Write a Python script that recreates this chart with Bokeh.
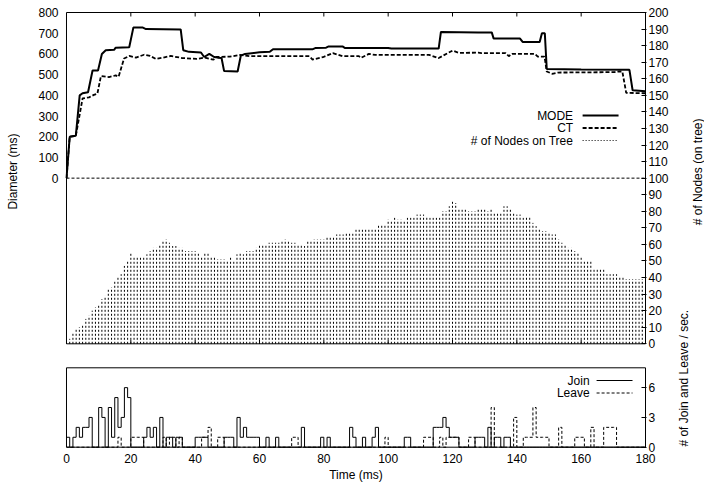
import math
from bokeh.plotting import figure
from bokeh.layouts import row
from bokeh.models import Range1d, LinearAxis, FixedTicker, Label
from bokeh.embed import file_html
from bokeh.resources import INLINE

# ---------------- data ----------------
time_s = list(range(180))

nodes_on_tree = [
    3, 3, 7, 9, 10, 12, 15, 17, 20, 22, 24, 27, 29, 33, 34, 38, 40, 42, 47, 50,
    55, 53, 53, 53, 53, 54, 56, 58, 58, 60, 62, 63, 61, 59, 59, 58, 58, 56, 56, 56,
    56, 55, 53, 55, 55, 53, 52, 51, 51, 51, 50, 53, 50, 54, 55, 54, 56, 56, 56, 58,
    60, 60, 60, 61, 61, 61, 61, 62, 63, 62, 61, 61, 60, 60, 59, 62, 62, 63, 63, 63,
    63, 64, 64, 64, 66, 66, 66, 67, 67, 67, 69, 69, 69, 69, 69, 69, 69, 72, 72, 72,
    75, 74, 76, 75, 75, 74, 76, 76, 76, 78, 78, 78, 77, 76, 76, 76, 76, 80, 80, 83,
    86, 85, 82, 81, 81, 80, 80, 80, 82, 82, 82, 80, 81, 79, 79, 79, 83, 83, 82, 79,
    78, 78, 76, 77, 77, 73, 71, 70, 68, 68, 67, 66, 66, 63, 61, 60, 58, 58, 56, 55,
    53, 50, 50, 50, 45, 45, 45, 45, 42, 42, 42, 42, 41, 40, 39, 39, 39, 39, 39, 39,
]

join_per_sec = [
    1, 0, 1, 2, 1, 2, 2, 3, 0, 0, 4, 3, 0, 4, 1, 5, 2, 3, 6, 5,
    0, 0, 0, 0, 1, 2, 1, 2, 0, 3, 0, 1, 1, 0, 1, 1, 0, 0, 0, 0,
    1, 1, 1, 1, 0, 0, 0, 0, 0, 1, 1, 1, 0, 3, 1, 2, 1, 1, 1, 1,
    0, 0, 1, 0, 0, 1, 0, 0, 0, 0, 0, 0, 0, 2, 0, 0, 0, 0, 0, 1,
    0, 1, 0, 0, 0, 0, 0, 0, 2, 1, 0, 0, 1, 0, 0, 1, 2, 0, 0, 0,
    0, 0, 0, 0, 0, 1, 1, 0, 0, 0, 0, 0, 0, 0, 2, 2, 2, 3, 2, 1,
    1, 1, 0, 0, 0, 0, 0, 1, 1, 1, 0, 2, 0, 1, 1, 0, 1, 1, 0, 0,
    0, 0, 0, 0, 0, 0, 0, 0, 0, 0, 0, 0, 0, 0, 0, 0, 0, 0, 0, 0,
    0, 0, 0, 0, 0, 0, 0, 0, 0, 0, 0, 0, 0, 0, 0, 0, 0, 0, 0, 0,
]

leave_per_sec = [
    0, 0, 0, 0, 0, 0, 0, 0, 0, 0, 0, 0, 0, 0, 0, 0, 1, 0, 0, 0,
    1, 1, 1, 1, 0, 0, 0, 0, 0, 0, 1, 0, 1, 1, 0, 1, 0, 0, 0, 0,
    0, 0, 1, 1, 2, 0, 0, 1, 1, 0, 0, 0, 0, 0, 0, 0, 0, 0, 0, 0,
    0, 0, 0, 0, 0, 0, 0, 0, 0, 0, 1, 1, 0, 0, 0, 0, 0, 0, 0, 0,
    0, 0, 0, 0, 0, 0, 0, 0, 0, 0, 0, 0, 0, 0, 0, 0, 0, 0, 0, 1,
    0, 0, 0, 0, 0, 0, 0, 0, 0, 0, 0, 1, 1, 1, 0, 0, 1, 0, 1, 1,
    1, 1, 0, 0, 0, 1, 1, 0, 0, 0, 0, 0, 4, 0, 0, 0, 0, 0, 0, 3,
    0, 0, 1, 1, 1, 4, 1, 1, 1, 1, 0, 0, 0, 2, 0, 0, 0, 0, 1, 1,
    1, 0, 0, 2, 0, 0, 0, 2, 2, 2, 2, 0, 0, 0, 0, 0, 0, 0, 0, 0,
]

mode_t = [0, 1, 2.9, 4.1, 5, 6.7, 8.1, 9.8, 11, 12.2,
          14.8, 15.3, 19.5, 20.8, 23.6, 24.7, 35.5, 36.3, 38.1, 41.8,
          42.8, 44.4, 45.9, 47, 48.2, 49, 53.2, 54.2, 55.5, 60,
          63.2, 64.2, 76.6, 77.5, 80.7, 81.5, 85.8, 86.5, 100, 101,
          115.7, 116.4, 128, 132.2, 132.8, 141, 141.8, 147.1, 147.8, 148.7,
          149.3, 160, 175, 176, 180]
mode_ms = [0, 200, 205, 400, 410, 415, 520, 520, 600, 618,
           620, 630, 632, 728, 728, 720, 718, 618, 610, 607,
           585, 600, 585, 582, 580, 517, 515, 592, 600, 608,
           610, 623, 623, 629, 630, 636, 636, 629, 629, 626,
           626, 706, 704, 704, 674, 674, 658, 658, 700, 700,
           527, 525, 523, 424, 420]

ct_t = [0, 1, 2.9, 5, 7, 8.5, 9.6, 10.7, 13.2, 15.3,
        16.2, 17.9, 19.5, 21.6, 24.1, 26, 27.8, 30, 32.4, 36,
        40.5, 43, 45.7, 46.5, 50.8, 53.9, 57, 75.5, 76.5, 79.7,
        82.8, 85.8, 90.9, 91.5, 94, 96, 112.7, 115.7, 120, 122,
        128, 129, 136.5, 137.5, 138.5, 145.6, 146.5, 148.6, 149.3, 151,
        152.8, 170.3, 171.8, 172.8, 174, 180]
ct_ms = [0, 200, 205, 385, 390, 402, 408, 493, 488, 496,
         490, 578, 590, 582, 596, 590, 576, 582, 590, 580,
         576, 582, 572, 585, 587, 595, 589, 589, 573, 584,
         604, 589, 589, 581, 600, 595, 595, 580, 616, 605,
         606, 604, 604, 589, 600, 600, 587, 587, 515, 504,
         510, 512, 515, 515, 412, 410]

time_ticks = [0, 20, 40, 60, 80, 100, 120, 140, 160, 180]
diam_ticks = [0, 100, 200, 300, 400, 500, 600, 700, 800]
nodes_ticks = [0, 10, 20, 30, 40, 50, 60, 70, 80, 90, 100,
               110, 120, 130, 140, 150, 160, 170, 180, 190, 200]
jl_ticks = [0, 3, 6]

# ---------------- layout geometry (page pixels) ----------------
FONT = "Liberation Sans"
FS = "12px"
PAGE_W, H = 704, 485
STRIP_L, STRIP_R = 20, 33            # narrow strips that hold the rotated axis titles
W = PAGE_W - STRIP_L - STRIP_R       # main plot canvas width
B_L, B_T, B_R, B_B = 45, 11, 24, 37
FW, FH = W - B_L - B_R, H - B_T - B_B
PAD = 1.0
XMIN, XMAX = 0, 180
XPX = (FW - 2 * PAD) / (XMAX - XMIN)
TOP_Y200, TOP_Y0 = 1.0, 332.3        # px from frame top
BOT_Y8, BOT_Y0 = 356.3, 435.7
NODES_MAX, JL_MAX, DIAM_MAX = 200, 8, 800
NPX = (TOP_Y0 - TOP_Y200) / NODES_MAX
JPX = (BOT_Y0 - BOT_Y8) / JL_MAX
main_end = NODES_MAX + TOP_Y200 / NPX
main_start = main_end - FH / NPX
jl_start = -(FH - BOT_Y0) / JPX
jl_end = jl_start + FH / JPX
DIAM_BASE = NODES_MAX / 2            # diameter 0 sits at the middle of the node axis
DSCALE = DIAM_MAX / (NODES_MAX - DIAM_BASE)
diam_start = (main_start - DIAM_BASE) * DSCALE
diam_end = (main_end - DIAM_BASE) * DSCALE

OX, OY = STRIP_L + B_L + PAD, B_T    # page position of (time 0, frame top)


def x_at(px):
    return XMIN + (px - OX) / XPX


def main_at(py):
    return main_end - (py - OY) / NPX


def jl_at(py):
    return jl_end - (py - OY) / JPX


p = figure(width=W, height=H, output_backend="svg", toolbar_location=None,
           x_range=Range1d(XMIN - PAD / XPX, XMAX + PAD / XPX),
           y_range=Range1d(main_start, main_end),
           x_axis_location="below", y_axis_location="right",
           min_border_left=B_L, min_border_right=B_R,
           min_border_top=B_T, min_border_bottom=B_B)
p.extra_y_ranges = {"diam": Range1d(diam_start, diam_end),
                    "jl": Range1d(jl_start, jl_end)}
p.grid.visible = False
p.outline_line_color = None
p.background_fill_color = "white"
p.border_fill_color = "white"


def style_axis(ax):
    ax.minor_tick_line_color = None
    ax.axis_line_color = None
    ax.major_label_text_font = FONT
    ax.major_label_text_font_size = FS
    ax.major_label_text_color = "black"
    ax.axis_label_text_font = FONT
    ax.axis_label_text_font_size = FS
    ax.axis_label_text_font_style = "normal"
    ax.axis_label_text_color = "black"


# right axis: node counts (top) + join/leave (bottom) tick labels
jl_main = [round(main_at(OY + BOT_Y0 - v * JPX), 6) for v in jl_ticks]
right_ticks = [float(v) for v in nodes_ticks] + jl_main
overrides = {float(v): str(v) for v in nodes_ticks}
for v, m in zip(jl_ticks, jl_main):
    overrides[m] = str(v)
ry = p.yaxis[0]
style_axis(ry)
ry.ticker = FixedTicker(ticks=right_ticks)
ry.major_label_overrides = overrides
ry.major_tick_in = 5
ry.major_tick_out = 0
ry.major_label_standoff = 2

# left axis: diameter
ly = LinearAxis(y_range_name="diam", ticker=FixedTicker(ticks=diam_ticks),
                major_tick_in=0, major_tick_out=0, major_label_standoff=7)
style_axis(ly)
p.add_layout(ly, "left")

# bottom axis: time
bx = p.xaxis[0]
style_axis(bx)
bx.ticker = FixedTicker(ticks=time_ticks)
bx.major_tick_in = 0
bx.major_tick_out = 0
bx.major_label_standoff = 5
bx.axis_label = "Time (ms)"
bx.axis_label_standoff = 2

# ---------------- top panel ----------------
p.segment(x0=time_s, y0=[0] * len(time_s), x1=time_s, y1=nodes_on_tree,
          line_color="black", line_width=1, line_dash="2 2")
p.line(x=[XMIN, XMAX], y=[0, 0], y_range_name="diam",
       line_color="black", line_width=1, line_dash="3 2")
p.line(x=ct_t, y=ct_ms, y_range_name="diam", line_color="black",
       line_width=1.8, line_dash="4 2")
p.line(x=mode_t, y=mode_ms, y_range_name="diam", line_color="black",
       line_width=2)

# ---------------- bottom panel ----------------
step_x = time_s + [XMAX]
p.step(x=step_x, y=leave_per_sec + [0], mode="after", y_range_name="jl",
       line_color="black", line_width=1, line_dash="3 2")
p.step(x=step_x, y=join_per_sec + [0], mode="after", y_range_name="jl",
       line_color="black", line_width=1)

# panel borders and inner time ticks of the top panel
p.quad(left=[XMIN], right=[XMAX], bottom=[0], top=[NODES_MAX],
       fill_color=None, line_color="black", line_width=1)
p.quad(left=[XMIN], right=[XMAX], bottom=[0], top=[JL_MAX], y_range_name="jl",
       fill_color=None, line_color="black", line_width=1)
inner = [t for t in time_ticks if XMIN < t < XMAX]
tl = 4 / NPX
p.segment(x0=inner, y0=[NODES_MAX] * len(inner), x1=inner,
          y1=[NODES_MAX - tl] * len(inner), line_color="black", line_width=1)
p.segment(x0=inner, y0=[0] * len(inner), x1=inner, y1=[tl] * len(inner),
          line_color="black", line_width=1)

# ---------------- legends (gnuplot style: text, then sample) ----------------
top_keys = [("MODE", None, 2), ("CT", "4 2", 1.8), ("# of Nodes on Tree", "1 2", 1)]
for i, (txt, dash, lw) in enumerate(top_keys):
    py = 115 + 12.5 * i
    p.add_layout(Label(x=x_at(573.5), y=main_at(py), text=txt,
                       text_font=FONT, text_font_size=FS, text_color="black",
                       text_align="right", text_baseline="middle"))
    kw = dict(line_color="black", line_width=lw)
    if dash:
        kw["line_dash"] = dash
    p.segment(x0=[x_at(583)], y0=[main_at(py)], x1=[x_at(619)],
              y1=[main_at(py)], **kw)

bot_keys = [("Join", None), ("Leave", "3 2")]
for i, (txt, dash) in enumerate(bot_keys):
    py = 380 + 12.5 * i
    p.add_layout(Label(x=x_at(590), y=jl_at(py), y_range_name="jl", text=txt,
                       text_font=FONT, text_font_size=FS, text_color="black",
                       text_align="right", text_baseline="middle"))
    kw = dict(line_color="black", line_width=1)
    if dash:
        kw["line_dash"] = dash
    p.segment(x0=[x_at(597)], y0=[jl_at(py)], x1=[x_at(633)],
              y1=[jl_at(py)], y_range_name="jl", **kw)


# ---------------- strips holding the rotated axis titles ----------------
def title_strip(width, titles):
    s = figure(width=width, height=H, output_backend="svg", toolbar_location=None,
               x_range=Range1d(0, width), y_range=Range1d(0, H),
               x_axis_type=None, y_axis_type=None,
               min_border_left=0, min_border_right=0,
               min_border_top=0, min_border_bottom=0)
    s.grid.visible = False
    s.outline_line_color = None
    s.background_fill_color = "white"
    s.border_fill_color = "white"
    for txt, cx, cy in titles:
        s.add_layout(Label(x=cx, y=H - cy, text=txt, angle=math.pi / 2,
                           text_font=FONT, text_font_size=FS, text_color="black",
                           text_align="center", text_baseline="middle"))
    return s


left_strip = title_strip(STRIP_L, [("Diameter (ms)", 12.5, 177.7)])
x_r = STRIP_L + W
right_strip = title_strip(STRIP_R, [("# of Join and Leave / sec.", 683 - x_r, 407),
                                    ("# of Nodes (on tree)", 697 - x_r, 178)])

layout = row(left_strip, p, right_strip, spacing=0)
open("out.html", "w").write(file_html(layout, INLINE))
